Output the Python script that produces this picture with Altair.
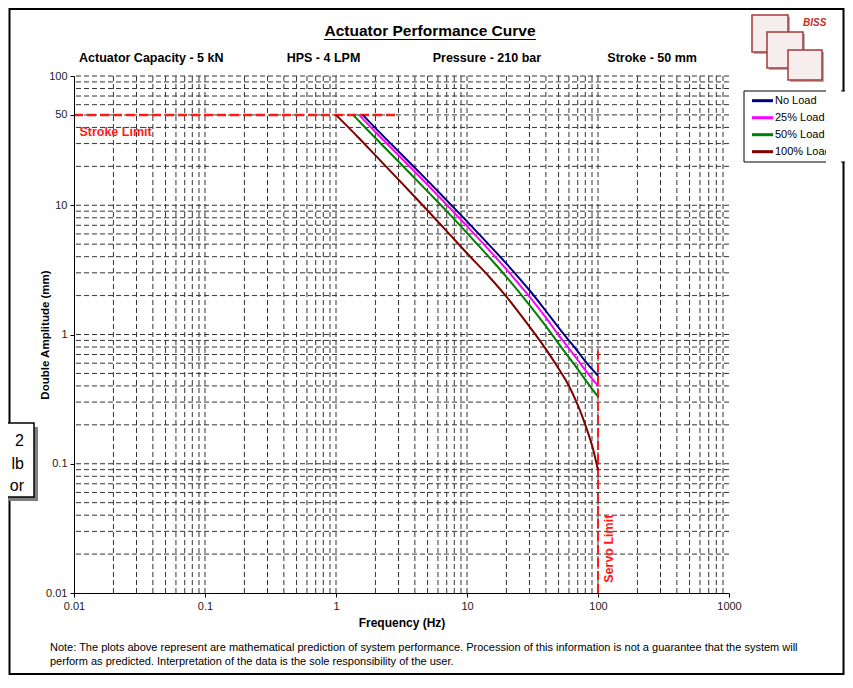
import altair as alt
import pandas as pd

FONT = "Liberation Sans"

# ---------------- data ----------------
series_names = ["No Load", "25% Load", "50% Load", "100% Load"]
series_colors = ["#000080", "#ff00ff", "#008000", "#800000"]

freq_no_load = [1.6, 2, 3, 5, 7, 10, 15, 20, 30, 40, 50, 60, 70, 80, 90, 100]
amp_no_load = [50, 39.5, 26.1, 15.5, 10.9, 7.5, 4.85, 3.53, 2.2, 1.52, 1.13, 0.9, 0.74, 0.62, 0.54, 0.48]

freq_25 = [1.5, 2, 3, 5, 7, 10, 15, 20, 30, 40, 50, 60, 70, 80, 90, 100]
amp_25 = [50, 36.9, 24.4, 14.4, 10.1, 6.9, 4.42, 3.19, 1.96, 1.35, 0.99, 0.78, 0.635, 0.53, 0.455, 0.40]

freq_50 = [1.35, 2, 3, 5, 7, 10, 15, 20, 30, 40, 50, 60, 70, 80, 90, 100]
amp_50 = [50, 33.1, 21.8, 12.8, 9.0, 6.1, 3.89, 2.79, 1.69, 1.16, 0.85, 0.665, 0.54, 0.447, 0.38, 0.33]

freq_100 = [1.0, 1.5, 2, 3, 5, 7, 10, 15, 20, 30, 40, 50, 60, 70, 80, 90, 95, 100]
amp_100 = [50, 33, 24.3, 15.8, 9.1, 6.3, 4.25, 2.75, 1.96, 1.15, 0.77, 0.545, 0.40, 0.285, 0.2, 0.139, 0.112, 0.089]

stroke_limit = {"f": [0.01], "f2": [3], "a": [50]}
servo_limit = {"f": [100], "a": [0.01], "a2": [0.75]}

x_tick_values = [0.01, 0.1, 1, 10, 100, 1000]
y_tick_values = [0.01, 0.1, 1, 10, 50, 100]
mantissas = [1, 2, 3, 4, 5, 6, 7, 8, 9]
x_grid_values = [m * d for d in [0.01, 0.1, 1, 10, 100] for m in mantissas][1:]
y_grid_values = [m * d for d in [0.01, 0.1, 1, 10] for m in mantissas][1:] + [100]

title_text = "Actuator Performance Curve"
spec_texts = ["Actuator Capacity - 5 kN", "HPS - 4 LPM", "Pressure - 210 bar", "Stroke - 50 mm"]
note_lines = [
    "Note: The plots above represent are mathematical prediction of system performance. Procession of this information is not a guarantee that the system will",
    "perform as predicted. Interpretation of the data is the sole responsibility of the user.",
]
side_box_lines = ["2", "lb", "or"]

# ---------------- frames ----------------
series_freqs = [freq_no_load, freq_25, freq_50, freq_100]
series_amps = [amp_no_load, amp_25, amp_50, amp_100]
rows = []
for name, fs, amps in zip(series_names, series_freqs, series_amps):
    for f, a in zip(fs, amps):
        rows.append({"series": name, "f": f, "a": a})
curves_df = pd.DataFrame(rows)
one = pd.DataFrame({"k": [0]})

W, H = 655, 517

X = alt.X(
    "f:Q",
    scale=alt.Scale(type="log", domain=[0.01, 1000]),
    axis=alt.Axis(
        values=x_tick_values, labelExpr="format(datum.value, '~g')", grid=False,
        domainColor="#000", tickColor="#000", tickSize=4, labelFontSize=11,
        labelColor="#222", labelPadding=3, labelFont=FONT, labelFlush=False, zindex=1,
        title="Frequency (Hz)", titleFont=FONT, titleFontSize=12, titleFontWeight="bold",
        titleX=W / 2, titleY=29, titleBaseline="middle", titleAlign="center", titleColor="#000",
    ),
)
Y = alt.Y(
    "a:Q",
    scale=alt.Scale(type="log", domain=[0.01, 100]),
    axis=alt.Axis(
        values=y_tick_values, labelExpr="format(datum.value, '~g')", grid=False,
        domainColor="#000", tickColor="#000", tickSize=4, labelFontSize=11,
        labelColor="#222", labelPadding=3, labelFont=FONT, labelFlush=False, zindex=1,
        title="Double Amplitude (mm)", titleFont=FONT, titleFontSize=11.5, titleFontWeight="bold",
        titleX=-29, titleY=H / 2, titleAngle=270, titleBaseline="middle", titleAlign="center",
        titleColor="#000",
    ),
)


def rect(x, x2, y, y2, fill="white", stroke=None, sw=1.0, fill_opacity=1.0):
    kw = {"fill": fill, "fillOpacity": fill_opacity}
    if stroke:
        kw.update(stroke=stroke, strokeWidth=sw)
    return alt.Chart(one).mark_rect(**kw).encode(
        x=alt.value(x), x2=alt.value(x2), y=alt.value(y), y2=alt.value(y2))


def text(s, x, y, size, weight="normal", align="left", color="#000", style="normal"):
    return alt.Chart(one).mark_text(
        text=s, align=align, baseline="middle", fontSize=size, fontWeight=weight,
        fontStyle=style, color=color, font=FONT,
    ).encode(x=alt.value(x), y=alt.value(y))


def hline(x, x2, y, color, sw):
    return alt.Chart(one).mark_rule(color=color, strokeWidth=sw).encode(
        x=alt.value(x), x2=alt.value(x2), y=alt.value(y))


layers = []
# outer frame
layers.append(rect(-64.5, 769.5, -67, 598, fill="white", stroke="#000", sw=2, fill_opacity=0))

# grid
grid_dash = [5, 3]
layers.append(alt.Chart(pd.DataFrame({"f": x_grid_values})).mark_rule(
    color="#333", strokeWidth=1, strokeDash=grid_dash).encode(x=X))
layers.append(alt.Chart(pd.DataFrame({"a": y_grid_values})).mark_rule(
    color="#333", strokeWidth=1, strokeDash=grid_dash).encode(y=Y))

# limits
layers.append(alt.Chart(pd.DataFrame(stroke_limit)).mark_rule(
    color="#ff1a1a", strokeWidth=2.5, strokeDash=[9, 4]).encode(x=X, x2="f2:Q", y=Y))
layers.append(alt.Chart(pd.DataFrame(servo_limit)).mark_rule(
    color="#ff1a1a", strokeWidth=2, strokeDash=[9, 4]).encode(x=X, y=Y, y2="a2:Q"))

# curves
layers.append(alt.Chart(curves_df).mark_line(strokeWidth=2, interpolate="catmull-rom").encode(
    x=X, y=Y,
    color=alt.Color("series:N", scale=alt.Scale(domain=series_names, range=series_colors), legend=None),
))

# limit labels
layers.append(alt.Chart(pd.DataFrame({"f": [0.011], "a": [37]})).mark_text(
    text="Stroke Limit", align="left", baseline="middle", fontSize=12.5, fontWeight="bold",
    color="#ff1a1a", font=FONT).encode(x=X, y=Y))
layers.append(alt.Chart(pd.DataFrame({"f": [100], "a": [0.012]})).mark_text(
    text="Servo Limit", align="left", baseline="middle", fontSize=12.5, fontWeight="bold",
    color="#ff1a1a", font=FONT, angle=270, dy=10.5).encode(x=X, y=Y))

# title + spec row
layers.append(text(title_text, 356, -45, 15.5, weight="bold", align="center"))
layers.append(hline(250, 462, -36.5, "#000", 1.2))
spec_x = [5, 212.7, 358.7, 533.3]
for s, sx in zip(spec_texts, spec_x):
    layers.append(text(s, sx, -18, 12.5, weight="bold"))

# logo (simplified)
logo_boxes = [(678, 714, -61, -24), (693, 729, -44, -8), (714, 748, -26, 4)]
for (a, b, c, d) in logo_boxes:
    layers.append(rect(a + 2, b + 2, c + 2, d + 2, fill="#b0b0b0"))
    layers.append(rect(a, b, c, d, fill="#f6eeee", stroke="#a33a3a", sw=1.5))
layers.append(text("BISS", 729, -53, 10, weight="bold", color="#c0302a", style="italic"))

# legend
layers.append(rect(670, 790, 15, 86, fill="white", stroke="#000", sw=1))
for i, (name, col) in enumerate(zip(series_names, series_colors)):
    ry = 24.7 + i * 17
    layers.append(hline(678, 699, ry, col, 3))
    layers.append(text(name, 701, ry, 11))
layers.append(rect(752, 767, 8, 92, fill="white"))

# side box (partially visible)
layers.append(rect(-86, -36, 351, 425, fill="#7f7f7f"))
layers.append(rect(-90, -40, 347, 421, fill="white", stroke="#000", sw=1.5))
for i, s in enumerate(side_box_lines):
    layers.append(text(s, -50, 365 + i * 22.5, 16, align="right"))

# note
for i, s in enumerate(note_lines):
    layers.append(text(s, -24, 572 + i * 14, 11))

chart = alt.layer(*layers).properties(
    width=W, height=H,
    autosize=alt.AutoSizeParams(type="none"),
    padding={"left": 66, "top": 68, "right": 116, "bottom": 83},
).configure_view(stroke=None)

chart.save("out.html", embed_options={"renderer": "svg", "actions": False})
